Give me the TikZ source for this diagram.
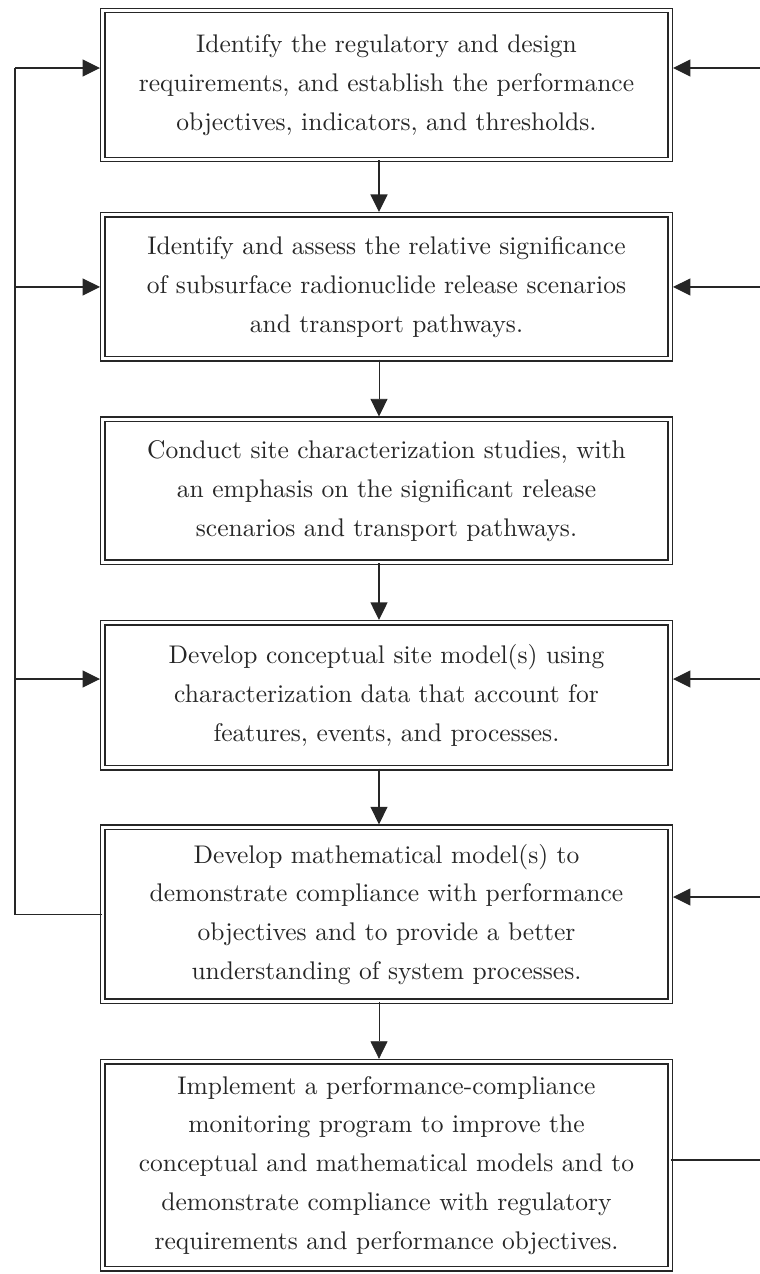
\documentclass[tikz,border=0pt]{standalone}
\usetikzlibrary{arrows.meta, positioning}
\tikzset{
  stepbox/.style={rectangle, draw=black!85, double, double distance=1.2pt, line width=0.58pt, minimum width=226.8pt, text width=218pt, align=center, inner sep=2pt, text=black!85, font=\fontsize{10.2}{15.5}\selectfont},
  arrow/.style={line width=0.5pt, draw=black!85, -{Triangle[length=7pt, width=6.8pt]}, shorten >=0.9pt},
  link/.style={line width=0.5pt, draw=black!85}
}

\begin{document}
\begin{tikzpicture}[x=0.4pt, y=-0.4pt, node distance=23.6pt]
\useasboundingbox (0,0) rectangle (760,1274);

% Steps
\node (req) [stepbox, minimum height=59.6pt] at (386.5,85) {Identify the regulatory and design\\requirements, and establish the performance\\objectives, indicators, and thresholds.};
\node (scen) [stepbox, minimum height=57.6pt, below=21.6pt of req] {Identify and assess the relative significance\\of subsurface radionuclide release scenarios\\and transport pathways.};
\node (site) [stepbox, minimum height=57.2pt, below=of scen] {Conduct site characterization studies, with\\an emphasis on the significant release\\scenarios and transport pathways.};
\node (concept) [stepbox, minimum height=58pt, below=of site] {Develop conceptual site model(s) using\\characterization data that account for\\features, events, and processes.};
\node (math) [stepbox, minimum height=69.6pt, below=23.2pt of concept] {Develop mathematical model(s) to\\demonstrate compliance with performance\\objectives and to provide a better\\understanding of system processes.};
\node (monitor) [stepbox, minimum height=82.8pt, below=of math] {Implement a performance-compliance\\monitoring program to improve the\\conceptual and mathematical models and to\\demonstrate compliance with regulatory\\requirements and performance objectives.};

% Main flow
\draw [arrow] ([xshift=-3pt]req.south) -- ([xshift=-3pt]scen.north);
\draw [arrow, line width=0.3pt] ([xshift=-3pt]scen.south) -- ([xshift=-3pt]site.north);
\draw [arrow] ([xshift=-3pt]site.south) -- ([xshift=-3pt]concept.north);
\draw [arrow] ([xshift=-3pt]concept.south) -- ([xshift=-3pt]math.north);
\draw [arrow, line width=0.3pt] ([xshift=-3pt]math.south) -- ([xshift=-3pt]monitor.north);

% Edge points
\coordinate (ltop) at (15,68);
\coordinate (rreq) at (760,68);
\coordinate (rconcept) at (760,679);
\coordinate (rmath) at (760,897);
\coordinate (rmon) at (760,1160);

% Feedback on the left
\draw [link] (math.west) -- (math.west -| ltop) -- (ltop);
\draw [arrow] (ltop) -- (ltop -| req.west);
\draw [arrow] (ltop |- scen.west) -- (scen.west);
\draw [arrow] (ltop |- rconcept) -- (rconcept -| concept.west);

% Feedback on the right
\draw [arrow] (rreq) -- (rreq -| req.east);
\draw [arrow] (rreq |- scen.east) -- (scen.east);
\draw [arrow] (rconcept) -- (rconcept -| concept.east);
\draw [arrow] (rmath) -- (rmath -| math.east);
\draw [link] (monitor.east |- rmon) -- (rmon);

\end{tikzpicture}
\end{document}
